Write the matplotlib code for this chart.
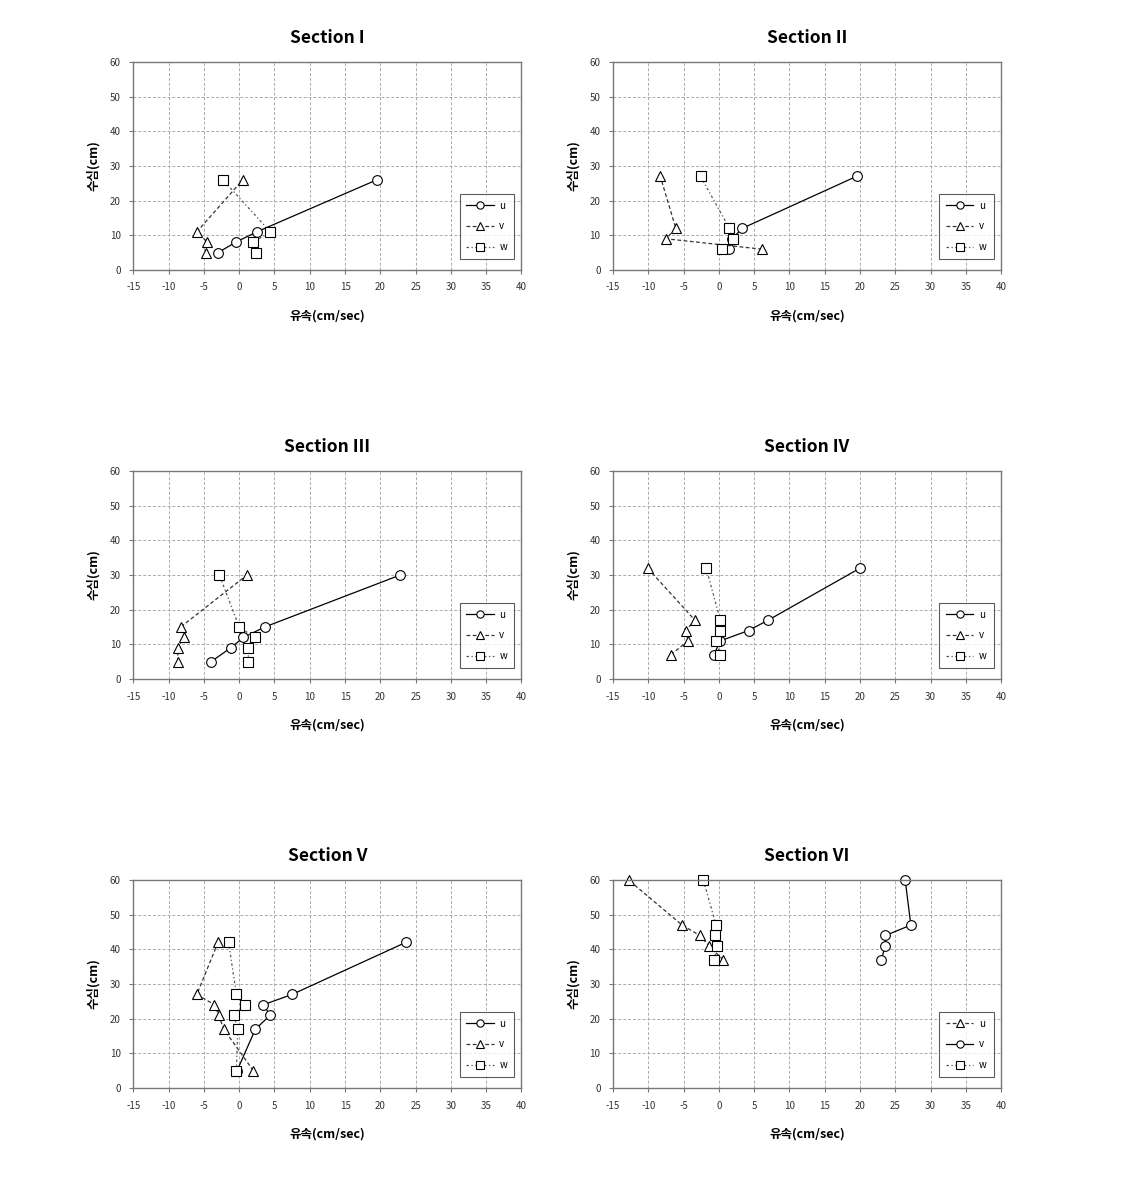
import matplotlib
matplotlib.use("Agg")
import matplotlib.pyplot as plt

plt.rcParams['font.family'] = ['Noto Sans CJK KR', 'DejaVu Sans']
plt.rcParams['axes.unicode_minus'] = False

titles = ["Section I", "Section II", "Section III", "Section IV", "Section V", "Section VI"]

# depths (cm) per section
sec1_depth = [5, 8, 11, 26]
sec2_depth = [6, 9, 12, 27]
sec3_depth = [5, 9, 12, 15, 30]
sec4_depth = [7, 11, 14, 17, 32]
sec5_depth = [5, 17, 21, 24, 27, 42]
sec6_depth = [37, 41, 44, 47, 60]

# velocities (cm/sec)
sec1_u = [-3.0, -0.5, 2.5, 19.5]
sec1_v = [-4.7, -4.5, -6.0, 0.5]
sec1_w = [2.4, 2.0, 4.4, -2.3]

sec2_u = [1.4, 1.9, 3.3, 19.5]
sec2_v = [6.1, -7.5, -6.1, -8.3]
sec2_w = [0.4, 2.0, 1.5, -2.6]

sec3_u = [-4.0, -1.2, 0.6, 3.6, 22.8]
sec3_v = [-8.7, -8.7, -7.8, -8.3, 1.1]
sec3_w = [1.3, 1.3, 2.2, 0.0, -2.8]

sec4_u = [-0.7, 0.2, 4.2, 7.0, 20.0]
sec4_v = [-6.8, -4.4, -4.7, -3.4, -10.1]
sec4_w = [0.2, -0.4, 0.1, 0.2, -1.8]

sec5_u = [-0.3, 2.3, 4.4, 3.4, 7.5, 23.6]
sec5_v = [2.0, -2.2, -2.9, -3.5, -6.0, -3.0]
sec5_w = [-0.4, -0.2, -0.8, 0.8, -0.4, -1.5]

# section VI: legend of the original labels triangles as u and circles as v
sec6_u = [0.6, -1.4, -2.7, -5.2, -12.8]
sec6_v = [23.0, 23.6, 23.6, 27.2, 26.4]
sec6_w = [-0.7, -0.2, -0.5, -0.4, -2.2]

sections = [
    (sec1_depth, sec1_u, sec1_v, sec1_w),
    (sec2_depth, sec2_u, sec2_v, sec2_w),
    (sec3_depth, sec3_u, sec3_v, sec3_w),
    (sec4_depth, sec4_u, sec4_v, sec4_w),
    (sec5_depth, sec5_u, sec5_v, sec5_w),
    (sec6_depth, sec6_u, sec6_v, sec6_w),
]

x_ticks = list(range(-15, 41, 5))
y_ticks = list(range(0, 61, 10))

solid = dict(color='black', lw=0.9, ls='-')
dashed = dict(color='#333333', lw=0.9, ls=(0, (3, 2)))
dotted = dict(color='#555555', lw=0.9, ls=(0, (2, 2, 1, 2)))
mk = dict(ms=7, mfc='white', mec='black', mew=0.8, clip_on=False)

fig = plt.figure(figsize=(11.3, 11.83), dpi=100)

lefts = [0.118, 0.5425]
bottoms = [0.7718, 0.426, 0.0803]
w_ax = 0.3435
h_ax = 0.1758

for i, (depth, u, v, w) in enumerate(sections):
    ax = fig.add_axes([lefts[i % 2], bottoms[i // 2], w_ax, h_ax])
    if i < 5:
        ax.plot(u, depth, marker='o', label='u', **solid, **mk)
        ax.plot(v, depth, marker='^', label='v', **dashed, **mk)
        ax.plot(w, depth, marker='s', label='w', **dotted, **mk)
    else:
        ax.plot(u, depth, marker='^', label='u', **dashed, **mk)
        ax.plot(v, depth, marker='o', label='v', **solid, **mk)
        ax.plot(w, depth, marker='s', label='w', **dotted, **mk)

    ax.set_xlim(-15, 40)
    ax.set_ylim(0, 60)
    ax.set_xticks(x_ticks)
    ax.set_yticks(y_ticks)
    ax.grid(True, color='#aaaaaa', ls=(0, (3, 2)), lw=0.7)
    ax.set_axisbelow(True)
    for s in ax.spines.values():
        s.set_color('#777777')
        s.set_linewidth(1.0)
    ax.tick_params(labelsize=7, colors='#333333', length=3, width=0.8, color='#777777', pad=6)

    ax.set_title(titles[i], fontsize=12.5, fontweight='bold', pad=14)
    ax.set_xlabel('유속(cm/sec)', fontsize=9, fontweight='bold', labelpad=12)
    ax.set_ylabel('수심(cm)', fontsize=9, fontweight='bold', labelpad=7)

    leg = ax.legend(loc='lower right', bbox_to_anchor=(0.993, 0.03), fontsize=7,
                    frameon=True, fancybox=False, edgecolor='#333333',
                    handlelength=2.8, labelspacing=1.1, borderpad=0.7,
                    handletextpad=0.6, markerscale=0.75)
    leg.get_frame().set_linewidth(0.8)

fig.savefig('out.png', dpi=100)
